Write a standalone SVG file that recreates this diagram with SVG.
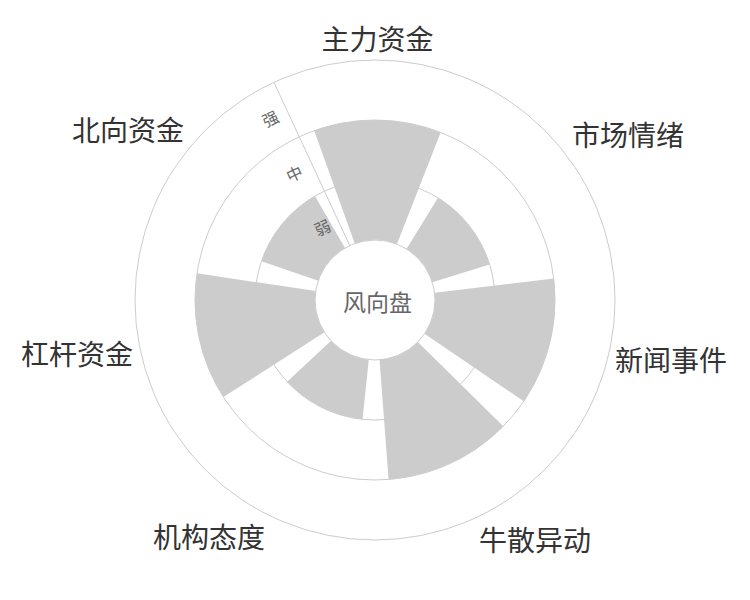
<svg xmlns="http://www.w3.org/2000/svg" width="750" height="600" viewBox="0 0 750 600">
<style>
.grid{fill:none;stroke:#cccccc;stroke-width:1}
.bar{fill:#cccccc;stroke:none}
.cat{font-family:"Noto Sans CJK SC","Noto Sans",sans-serif;font-size:28px;fill:#333333}
.rad{font-family:"Noto Sans CJK SC","Noto Sans",sans-serif;font-size:16px;fill:#666666;text-anchor:middle;dominant-baseline:central}
.ctr{font-family:"Noto Sans CJK SC","Noto Sans",sans-serif;font-size:23px;fill:#666666;text-anchor:middle}
</style>
<rect width="750" height="600" fill="#ffffff"/>
<g id="grid">
<circle class="grid" cx="375" cy="300" r="60"/>
<circle class="grid" cx="375" cy="300" r="120"/>
<circle class="grid" cx="375" cy="300" r="180"/>
<circle class="grid" cx="375" cy="300" r="240"/>
<line class="grid" x1="349.74" y1="245.58" x2="273.95" y2="82.31"/>
</g>
<g id="bars">
<path id="bar-zhuli" class="bar" d="M354.72,243.53 L314.16,130.59 A180,180 0 0 1 440.63,132.39 L396.88,244.13 A60,60 0 0 0 354.72,243.53 Z"/>
<path id="bar-shichang" class="bar" d="M406.50,248.94 L438.01,197.87 A120,120 0 0 1 489.64,264.54 L432.32,282.27 A60,60 0 0 0 406.50,248.94 Z"/>
<path id="bar-xinwen" class="bar" d="M434.57,292.79 L553.70,278.38 A180,180 0 0 1 523.80,401.28 L424.60,333.76 A60,60 0 0 0 434.57,292.79 Z"/>
<path id="bar-niusan" class="bar" d="M417.77,342.08 L503.32,426.24 A180,180 0 0 1 388.59,479.49 L379.53,359.83 A60,60 0 0 0 417.77,342.08 Z"/>
<path id="bar-jigou" class="bar" d="M368.77,359.68 L362.54,419.35 A120,120 0 0 1 287.10,381.69 L331.05,340.84 A60,60 0 0 0 368.77,359.68 Z"/>
<path id="bar-ganggan" class="bar" d="M324.46,332.34 L223.38,397.01 A180,180 0 0 1 196.99,273.30 L315.66,291.10 A60,60 0 0 0 324.46,332.34 Z"/>
<path id="bar-beixiang" class="bar" d="M318.21,280.64 L261.42,261.29 A120,120 0 0 1 314.93,196.12 L344.96,248.06 A60,60 0 0 0 318.21,280.64 Z"/>
</g>
<g id="radius-labels">
<text class="rad" transform="translate(322,227) rotate(-24.9)">弱</text>
<text class="rad" transform="translate(294,173) rotate(-24.9)">中</text>
<text class="rad" transform="translate(270,118) rotate(-24.9)">强</text>
</g>
<g id="category-labels">
<g id="node-zhuli"><text class="cat" x="377.5" y="50" text-anchor="middle">主力资金</text></g>
<g id="node-shichang"><text class="cat" x="572" y="146">市场情绪</text></g>
<g id="node-xinwen"><text class="cat" x="615" y="371">新闻事件</text></g>
<g id="node-niusan"><text class="cat" x="479" y="551">牛散异动</text></g>
<g id="node-jigou"><text class="cat" x="265" y="548" text-anchor="end">机构态度</text></g>
<g id="node-ganggan"><text class="cat" x="133" y="365" text-anchor="end">杠杆资金</text></g>
<g id="node-beixiang"><text class="cat" x="184" y="141" text-anchor="end">北向资金</text></g>
</g>
<g id="node-center"><text class="ctr" x="377.5" y="311">风向盘</text></g>
</svg>
